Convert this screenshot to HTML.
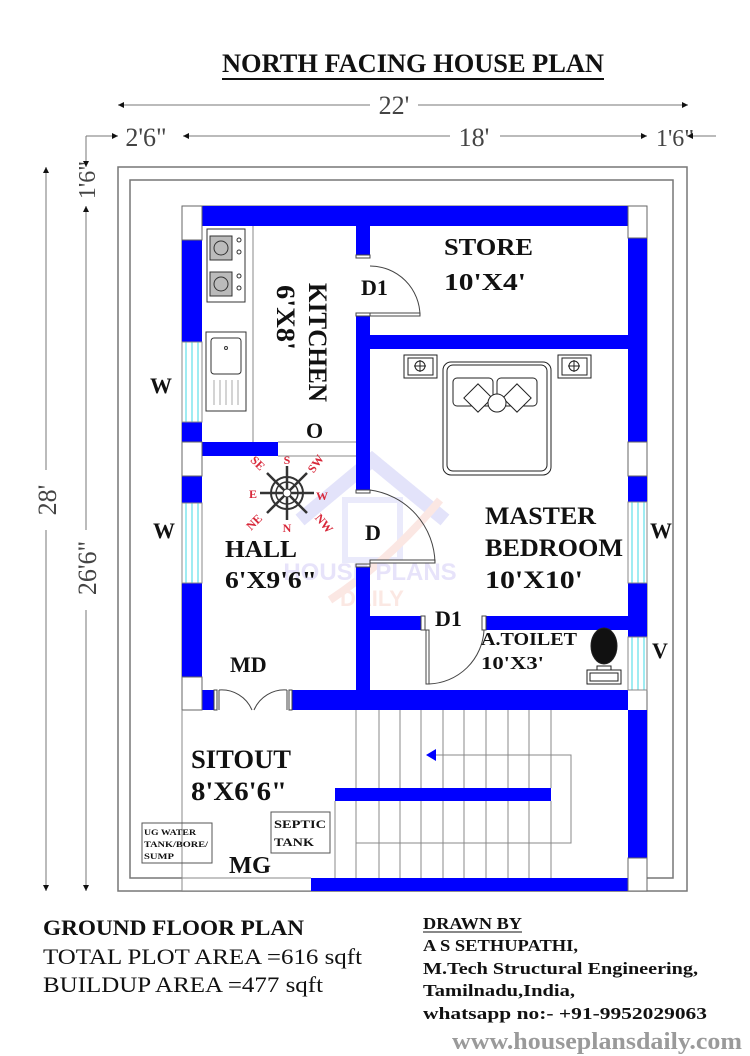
<!DOCTYPE html>
<html><head><meta charset="utf-8"><style>
html,body{margin:0;padding:0;background:#fff;}
svg{display:block;}
.b{font-family:"Liberation Serif",serif;font-weight:bold;fill:#111;}
.d{font-family:"Liberation Serif",serif;fill:#444;}
.r{font-family:"Liberation Serif",serif;font-weight:bold;fill:#d8283a;font-size:12px;}
</style></head><body>
<svg width="750" height="1056" viewBox="0 0 750 1056" xmlns="http://www.w3.org/2000/svg">
<defs>
<marker id="ar" viewBox="0 0 10 10" refX="10" refY="5" markerWidth="10" markerHeight="6" orient="auto-start-reverse"><path d="M0,0L10,5L0,10z" fill="#111"/></marker>
</defs>
<rect width="750" height="1056" fill="#fff"/>
<text class="b" x="413" y="72" font-size="26" text-anchor="middle" textLength="382" lengthAdjust="spacingAndGlyphs">NORTH FACING HOUSE PLAN</text>
<line x1="222" y1="79" x2="604" y2="79" stroke="#111" stroke-width="2"/>
<line x1="118" y1="105" x2="370" y2="105" stroke="#777" marker-start="url(#ar)"/>
<line x1="418" y1="105" x2="688" y2="105" stroke="#777" marker-end="url(#ar)"/>
<text class="d" x="394" y="114" font-size="26" text-anchor="middle">22'</text>
<line x1="86" y1="136" x2="118" y2="136" stroke="#777" marker-end="url(#ar)"/>
<text class="d" x="146" y="146" font-size="26" text-anchor="middle">2'6"</text>
<line x1="183" y1="136" x2="450" y2="136" stroke="#777" marker-start="url(#ar)"/>
<text class="d" x="474" y="146" font-size="26" text-anchor="middle">18'</text>
<line x1="500" y1="136" x2="647" y2="136" stroke="#777"/>
<line x1="620" y1="136" x2="647" y2="136" stroke="#777" marker-end="url(#ar)"/>
<text class="d" x="675" y="146" font-size="24" text-anchor="middle">1'6"</text>
<line x1="695" y1="136" x2="716" y2="136" stroke="#777"/>
<line x1="705" y1="136" x2="687" y2="136" stroke="#777" marker-end="url(#ar)"/>
<line x1="86" y1="136" x2="86" y2="167" stroke="#777" marker-end="url(#ar)"/>
<text class="d" transform="translate(95,180) rotate(-90)" font-size="24" text-anchor="middle">1'6"</text>
<line x1="86" y1="206" x2="86" y2="530" stroke="#777" marker-start="url(#ar)"/>
<text class="d" transform="translate(96,568) rotate(-90)" font-size="26" text-anchor="middle">26'6"</text>
<line x1="86" y1="610" x2="86" y2="891" stroke="#777" marker-end="url(#ar)"/>
<line x1="46" y1="167" x2="46" y2="470" stroke="#777" marker-start="url(#ar)"/>
<text class="d" transform="translate(56,500) rotate(-90)" font-size="26" text-anchor="middle">28'</text>
<line x1="46" y1="530" x2="46" y2="891" stroke="#777" marker-end="url(#ar)"/>
<rect x="118" y="167" width="569" height="724" fill="none" stroke="#777" stroke-width="1.5"/>
<rect x="130" y="180" width="543" height="698" fill="none" stroke="#777" stroke-width="1.5"/>
<rect x="182" y="206" width="465" height="685" fill="#fff" stroke="#666" stroke-width="1"/>
<g opacity="0.2">
<path d="M300,520 L372,460 L445,520" fill="none" stroke="#7a7ae8" stroke-width="14"/>
<path d="M345,500 v60 h55 v-60 z" fill="none" stroke="#9a9af0" stroke-width="6"/>
<path d="M330,600 Q390,560 440,500" fill="none" stroke="#f08a7a" stroke-width="8"/>
<text x="370" y="580" font-family="Liberation Sans,sans-serif" font-weight="bold" font-size="24" fill="#8a7ae8" text-anchor="middle">HOUSE PLANS</text>
<text x="372" y="606" font-family="Liberation Sans,sans-serif" font-weight="bold" font-size="22" fill="#f0907a" text-anchor="middle">DAILY</text>
</g>
<g fill="#0000ff">
<rect x="202" y="206" width="426" height="20"/>
<rect x="182" y="240" width="20" height="102"/>
<rect x="182" y="422" width="20" height="20"/>
<rect x="182" y="476" width="20" height="27"/>
<rect x="182" y="583" width="20" height="94"/>
<rect x="202" y="690" width="12" height="20"/>
<rect x="628" y="238" width="19" height="204"/>
<rect x="628" y="476" width="19" height="26"/>
<rect x="628" y="583" width="19" height="54"/>
<rect x="628" y="710" width="19" height="148"/>
<rect x="356" y="226" width="14" height="29"/>
<rect x="356" y="316" width="14" height="174"/>
<rect x="356" y="567" width="14" height="123"/>
<rect x="202" y="442" width="76" height="14"/>
<rect x="370" y="335" width="258" height="14"/>
<rect x="370" y="616" width="51" height="14"/>
<rect x="486" y="616" width="142" height="14"/>
<rect x="292" y="690" width="336" height="20"/>
<rect x="335" y="788" width="216" height="13"/>
<rect x="311" y="878" width="317" height="13"/>
</g>
<g fill="#fff" stroke="#666">
<rect x="182" y="206" width="20" height="34"/>
<rect x="628" y="206" width="19" height="32"/>
<rect x="182" y="442" width="20" height="34"/>
<rect x="628" y="442" width="19" height="34"/>
<rect x="182" y="677" width="20" height="33"/>
<rect x="628" y="858" width="19" height="33"/>
</g>
<g stroke="#5fe0e8" stroke-width="1.2">
<line x1="186" y1="342" x2="186" y2="422"/><line x1="192" y1="342" x2="192" y2="422"/><line x1="198" y1="342" x2="198" y2="422"/>
<line x1="186" y1="503" x2="186" y2="583"/><line x1="192" y1="503" x2="192" y2="583"/><line x1="198" y1="503" x2="198" y2="583"/>
<line x1="632" y1="502" x2="632" y2="583"/><line x1="638" y1="502" x2="638" y2="583"/><line x1="644" y1="502" x2="644" y2="583"/>
<line x1="632" y1="637" x2="632" y2="690"/><line x1="638" y1="637" x2="638" y2="690"/><line x1="644" y1="637" x2="644" y2="690"/>
</g>
<g stroke="#888" fill="none">
<rect x="182" y="342" width="20" height="80"/><rect x="182" y="503" width="20" height="80"/>
<rect x="628" y="502" width="19" height="81"/><rect x="628" y="637" width="19" height="53"/>
<line x1="253" y1="226" x2="253" y2="442"/>
<line x1="278" y1="456" x2="356" y2="456"/>
<line x1="278" y1="442" x2="356" y2="442"/>
</g>
<g stroke="#333" fill="none">
<rect x="207" y="229" width="38" height="73" fill="#fff"/>
<rect x="210" y="236" width="22" height="24" fill="#bbb"/><rect x="210" y="272" width="22" height="24" fill="#bbb"/>
<circle cx="221" cy="248" r="7"/><circle cx="221" cy="284" r="7"/>
<circle cx="239" cy="240" r="2"/><circle cx="239" cy="252" r="2"/><circle cx="239" cy="276" r="2"/><circle cx="239" cy="288" r="2"/>
<rect x="206" y="332" width="40" height="79"/>
<rect x="211" y="338" width="30" height="36" rx="3"/>
<circle cx="226" cy="348" r="1.5"/>
<line x1="214" y1="380" x2="214" y2="405" stroke="#aaa"/><line x1="220" y1="380" x2="220" y2="405" stroke="#aaa"/><line x1="226" y1="380" x2="226" y2="405" stroke="#aaa"/><line x1="232" y1="380" x2="232" y2="405" stroke="#aaa"/><line x1="238" y1="380" x2="238" y2="405" stroke="#aaa"/>
</g>
<g stroke="#444" fill="none">
<rect x="370" y="313" width="50" height="3" fill="#fff"/>
<path d="M420,316 A50,50 0 0 0 370,266"/>
<rect x="356" y="255" width="14" height="3"/><rect x="356" y="313" width="14" height="3"/>
<rect x="370" y="560" width="65" height="3" fill="#fff"/>
<path d="M435,563 A75,75 0 0 0 370,490"/>
<rect x="356" y="490" width="14" height="3"/><rect x="356" y="564" width="14" height="3"/>
<rect x="426" y="630" width="3" height="54" fill="#fff"/>
<path d="M429,684 A57,57 0 0 0 484,630"/>
<rect x="421" y="616" width="4" height="14"/><rect x="482" y="616" width="4" height="14"/>
<rect x="214" y="690" width="3" height="20"/><rect x="289" y="690" width="3" height="20"/>
<path d="M219,690 v20 M219,690 A33,33 0 0 1 252,710 M287,690 v20 M287,690 A33,33 0 0 0 254,710"/>
</g>
<g stroke="#222" fill="#fff">
<rect x="404" y="355" width="33" height="23"/><rect x="408" y="358" width="25" height="17"/><circle cx="420" cy="366" r="5"/><path d="M420,360v12M414,366h12"/>
<rect x="558" y="355" width="33" height="23"/><rect x="562" y="358" width="25" height="17"/><circle cx="574" cy="366" r="5"/><path d="M574,360v12M568,366h12"/>
<rect x="443" y="362" width="108" height="113" rx="8"/>
<rect x="447" y="365" width="100" height="106" rx="6" fill="none"/>
<rect x="453" y="378" width="40" height="28" rx="4"/><rect x="497" y="378" width="40" height="28" rx="4"/>
<rect x="468" y="388" width="20" height="20" transform="rotate(45 478 398)"/><rect x="507" y="388" width="20" height="20" transform="rotate(45 517 398)"/>
<circle cx="497" cy="403" r="9"/>
</g>
<g stroke="#222">
<rect x="587" y="670" width="34" height="14" fill="#fff"/><rect x="590" y="673" width="28" height="8" fill="#fff"/>
<ellipse cx="604" cy="646" rx="13" ry="18" fill="#111"/>
<path d="M597,666 h14 v4 h-14z" fill="#fff"/>
</g>
<g stroke="#888" fill="none">
<line x1="182" y1="710" x2="182" y2="891"/>
<line x1="356" y1="710" x2="356" y2="788"/><line x1="379" y1="710" x2="379" y2="788"/><line x1="400" y1="710" x2="400" y2="788"/><line x1="421" y1="710" x2="421" y2="788"/><line x1="443" y1="710" x2="443" y2="788"/><line x1="464" y1="710" x2="464" y2="788"/><line x1="486" y1="710" x2="486" y2="788"/><line x1="508" y1="710" x2="508" y2="788"/><line x1="529" y1="710" x2="529" y2="788"/><line x1="551" y1="710" x2="551" y2="788"/>
<line x1="335" y1="801" x2="335" y2="878"/><line x1="356" y1="801" x2="356" y2="878"/><line x1="379" y1="801" x2="379" y2="878"/><line x1="400" y1="801" x2="400" y2="878"/><line x1="421" y1="801" x2="421" y2="878"/><line x1="443" y1="801" x2="443" y2="878"/><line x1="464" y1="801" x2="464" y2="878"/><line x1="486" y1="801" x2="486" y2="878"/><line x1="508" y1="801" x2="508" y2="878"/><line x1="529" y1="801" x2="529" y2="878"/><line x1="551" y1="801" x2="551" y2="878"/>
<path d="M432,755 H571 V843 H356"/>
<line x1="182" y1="878" x2="311" y2="878"/>
<rect x="142" y="823" width="70" height="40" stroke="#555"/>
<rect x="271" y="812" width="59" height="41" stroke="#555"/>
</g>
<path d="M426,755 L436,749 L436,761z" fill="#0000ff"/>
<g stroke="#333" fill="none">
<circle cx="287" cy="493" r="16" stroke-width="2"/><circle cx="287" cy="493" r="11" stroke-width="1.5"/>
<path d="M287,466 V520 M260,493 H314 M267,473 L307,513 M307,473 L267,513" stroke-width="2.5"/>
<circle cx="287" cy="493" r="4" fill="#fff"/>
</g>
<text class="r" x="287" y="464" text-anchor="middle">S</text>
<text class="r" x="253" y="498" text-anchor="middle">E</text>
<text class="r" x="322" y="500" text-anchor="middle">W</text>
<text class="r" x="287" y="532" text-anchor="middle">N</text>
<text class="r" transform="translate(255,466) rotate(45)" text-anchor="middle">SE</text>
<text class="r" transform="translate(319,466) rotate(-55)" text-anchor="middle">SW</text>
<text class="r" transform="translate(257,525) rotate(-45)" text-anchor="middle">NE</text>
<text class="r" transform="translate(321,526) rotate(50)" text-anchor="middle">NW</text>
<text class="b" x="444" y="255" font-size="24" textLength="89" lengthAdjust="spacingAndGlyphs">STORE</text>
<text class="b" x="444" y="290" font-size="24" textLength="82" lengthAdjust="spacingAndGlyphs">10'X4'</text>
<text class="b" x="361" y="295" font-size="22">D1</text>
<text class="b" transform="translate(309,283) rotate(90)" font-size="26" textLength="119" lengthAdjust="spacingAndGlyphs">KITCHEN</text>
<text class="b" transform="translate(277,285) rotate(90)" font-size="26" textLength="65" lengthAdjust="spacingAndGlyphs">6'X8'</text>
<text class="b" x="306" y="438" font-size="22">O</text>
<text class="b" x="150" y="393" font-size="22">W</text>
<text class="b" x="153" y="538" font-size="22">W</text>
<text class="b" x="650" y="538" font-size="22">W</text>
<text class="b" x="652" y="658" font-size="22">V</text>
<text class="b" x="225" y="557" font-size="24" textLength="72" lengthAdjust="spacingAndGlyphs">HALL</text>
<text class="b" x="225" y="588" font-size="24" textLength="92" lengthAdjust="spacingAndGlyphs">6'X9'6"</text>
<text class="b" x="365" y="540" font-size="22">D</text>
<text class="b" x="485" y="524" font-size="25" textLength="111" lengthAdjust="spacingAndGlyphs">MASTER</text>
<text class="b" x="485" y="556" font-size="25" textLength="138" lengthAdjust="spacingAndGlyphs">BEDROOM</text>
<text class="b" x="485" y="588" font-size="25" textLength="98" lengthAdjust="spacingAndGlyphs">10'X10'</text>
<text class="b" x="435" y="626" font-size="22">D1</text>
<text class="b" x="481" y="645" font-size="18" textLength="96" lengthAdjust="spacingAndGlyphs">A.TOILET</text>
<text class="b" x="481" y="669" font-size="18" textLength="63" lengthAdjust="spacingAndGlyphs">10'X3'</text>
<text class="b" x="230" y="672" font-size="22">MD</text>
<text class="b" x="191" y="768" font-size="26" textLength="100" lengthAdjust="spacingAndGlyphs">SITOUT</text>
<text class="b" x="191" y="800" font-size="26" textLength="96" lengthAdjust="spacingAndGlyphs">8'X6'6"</text>
<text class="b" x="274" y="828" font-size="11.5" textLength="52" lengthAdjust="spacingAndGlyphs">SEPTIC</text>
<text class="b" x="274" y="846" font-size="11.5" textLength="40" lengthAdjust="spacingAndGlyphs">TANK</text>
<text class="b" x="144" y="835" font-size="8.5" textLength="52" lengthAdjust="spacingAndGlyphs">UG WATER</text>
<text class="b" x="144" y="847" font-size="8.5" textLength="64" lengthAdjust="spacingAndGlyphs">TANK/BORE/</text>
<text class="b" x="144" y="859" font-size="8.5" textLength="30" lengthAdjust="spacingAndGlyphs">SUMP</text>
<text class="b" x="229" y="873" font-size="24" textLength="42" lengthAdjust="spacingAndGlyphs">MG</text>
<text class="b" x="43" y="935" font-size="22" textLength="261" lengthAdjust="spacingAndGlyphs">GROUND FLOOR PLAN</text>
<text x="43" y="964" font-family="Liberation Serif,serif" font-size="22" fill="#111" textLength="319" lengthAdjust="spacingAndGlyphs">TOTAL PLOT AREA =616 sqft</text>
<text x="43" y="992" font-family="Liberation Serif,serif" font-size="22" fill="#111" textLength="280" lengthAdjust="spacingAndGlyphs">BUILDUP AREA =477 sqft</text>
<text class="b" x="423" y="929" font-size="17" textLength="99" lengthAdjust="spacingAndGlyphs">DRAWN BY</text>
<line x1="423" y1="932" x2="522" y2="932" stroke="#111"/>
<text class="b" x="423" y="951" font-size="17" textLength="155" lengthAdjust="spacingAndGlyphs">A S SETHUPATHI,</text>
<text class="b" x="423" y="974" font-size="17" textLength="275" lengthAdjust="spacingAndGlyphs">M.Tech Structural Engineering,</text>
<text class="b" x="423" y="996" font-size="17" textLength="152" lengthAdjust="spacingAndGlyphs">Tamilnadu,India,</text>
<text class="b" x="423" y="1019" font-size="17" textLength="284" lengthAdjust="spacingAndGlyphs">whatsapp no:- +91-9952029063</text>
<text x="452" y="1049" font-family="Liberation Serif,serif" font-weight="bold" font-size="24" fill="#9a9a9a" textLength="290" lengthAdjust="spacingAndGlyphs">www.houseplansdaily.com</text>
</svg>
</body></html>
